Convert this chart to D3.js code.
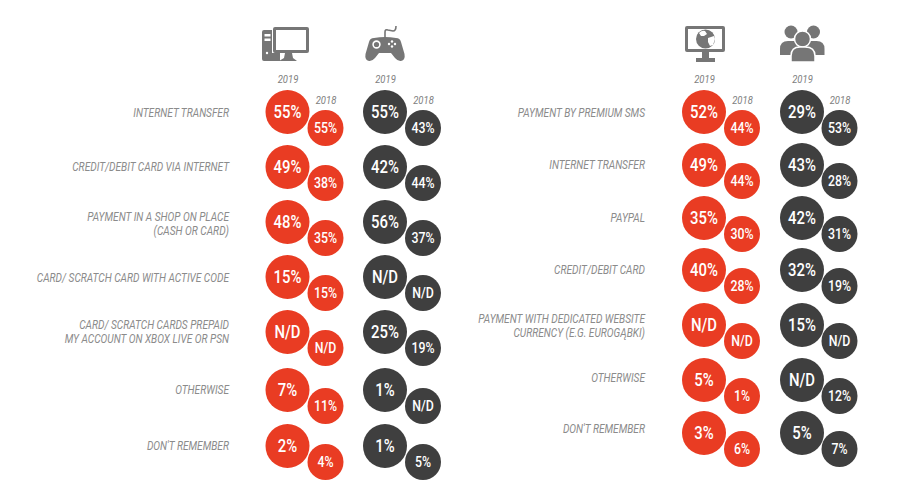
<!DOCTYPE html>
<html><head><meta charset="utf-8">
<script src="https://cdn.jsdelivr.net/npm/d3@7"></script>
<style>html,body{margin:0;padding:0;background:#fff}svg{display:block}text{font-family:Roboto,sans-serif}</style>
</head><body><svg id="c" width="899" height="496"></svg>
<script>
const leftCategories=[["INTERNET TRANSFER"],["CREDIT/DEBIT CARD VIA INTERNET"],["PAYMENT IN A SHOP ON PLACE","(CASH OR CARD)"],["CARD/ SCRATCH CARD WITH ACTIVE CODE"],["CARD/ SCRATCH CARDS PREPAID","MY ACCOUNT ON XBOX LIVE OR PSN"],["OTHERWISE"],["DON'T REMEMBER"]];
const rightCategories=[["PAYMENT BY PREMIUM SMS"],["INTERNET TRANSFER"],["PAYPAL"],["CREDIT/DEBIT CARD"],["PAYMENT WITH DEDICATED WEBSITE","CURRENCY (E.G. EUROGĄBKI)"],["OTHERWISE"],["DON'T REMEMBER"]];
const pc2019=["55%","49%","48%","15%","N/D","7%","2%"];
const pc2018=["55%","38%","35%","15%","N/D","11%","4%"];
const console2019=["55%","42%","56%","N/D","25%","1%","1%"];
const console2018=["43%","44%","37%","N/D","19%","N/D","5%"];
const web2019=["52%","49%","35%","40%","N/D","5%","3%"];
const web2018=["44%","44%","30%","28%","N/D","1%","6%"];
const people2019=["29%","43%","42%","32%","15%","N/D","5%"];
const people2018=["53%","28%","31%","19%","N/D","12%","7%"];
const years=["2019","2018"];

const svg=d3.select("#c");
const RED="#e93c23",DARK="#3f3f3f",ICON="#767676",LABEL="#8b8b8b";
const idx=d3.range(7);
const yL=d3.scaleLinear().domain(idx).range([112,167,222,277,332,390,446]);
const yR=d3.scaleLinear().domain(idx).range([112,165,218,270,325,380,433]);
const labelYL=d3.scaleLinear().domain(idx).range([113,167,223.5,278,332,390,446]);
const labelYR=d3.scaleLinear().domain(idx).range([113,165,218,270,326,378,429]);

function squeezed(g,x,y,str,size,sx,anchor,fill,style,weight){
  return g.append("text").attr("transform",`translate(${x},${y}) scale(${sx},1)`)
    .attr("text-anchor",anchor).attr("font-size",size).attr("fill",fill)
    .attr("font-style",style||"normal").attr("font-weight",weight||400)
    .attr("dominant-baseline","central").text(str);
}
function column(xBig,xSmall,y,vals19,vals18,color){
  const g=svg.append("g");
  idx.forEach(i=>{
    g.append("circle").attr("cx",xBig).attr("cy",y(i)).attr("r",22).attr("fill",color);
    g.append("circle").attr("cx",xSmall).attr("cy",y(i)+16).attr("r",18).attr("fill",color);
    squeezed(g,xBig,y(i)+.5,vals19[i],17.5,.85,"middle","#fff","normal",500);
    squeezed(g,xSmall,y(i)+16.5,vals18[i],14.5,.85,"middle","#fff","normal",500);
  });
  squeezed(g,xBig+.5,79,years[0],10.5,.9,"middle","#808080","italic");
  squeezed(g,xSmall+.5,100,years[1],10.5,.9,"middle","#808080","italic");
}
function labels(x,y,cats){
  const g=svg.append("g");
  cats.forEach((lines,i)=>lines.forEach((t,k)=>{
    squeezed(g,x,y(i)+(k-(lines.length-1)/2)*14,t,12.5,.81,"end",LABEL,"italic");
  }));
}
labels(229,labelYL,leftCategories);
labels(645,labelYR,rightCategories);
column(287.5,325.5,yL,pc2019,pc2018,RED);
column(385,423,yL,console2019,console2018,DARK);
column(704,742,yR,web2019,web2018,RED);
column(802,839.5,yR,people2019,people2018,DARK);

// icons
const ic=svg.append("g").attr("fill",ICON);
// desktop
ic.append("path").attr("fill-rule","evenodd").attr("d","M264 30h8v23h8v8h-16q-2 0-2-2V32q0-2 2-2ZM264.5 34v2.5h6V34ZM264.5 38.5V41h6v-2.5Z");
ic.append("path").attr("fill","#fff").attr("d","M272 30h2v23h-2Z");
ic.append("path").attr("fill-rule","evenodd").attr("d","M275 27h32q2 0 2 2v22q0 2-2 2h-32q-2 0-2-2V29q0-2 2-2ZM276 30v20h30V30Z");
ic.append("path").attr("d","M285 53h7l1 5 4 3h-18l5-3Z");
ic.append("circle").attr("cx",267).attr("cy",53).attr("r",1.2).attr("fill","#fff");
// gamepad
ic.append("path").attr("d","M374 38Q385 36 396 38Q400 38 401 42L404.500 54Q405.500 60 401 61Q398 61.500 395 58L391 53H379L375 58Q372 61.500 369 61Q364.500 60 365.500 54L369 42Q370 38 374 38Z");
ic.append("circle").attr("cx",376.500).attr("cy",44.500).attr("r",3.400).attr("fill","none").attr("stroke","#fff").attr("stroke-width",1.600);
[[392,41.500],[395,44],[392,46.500],[389,44]].forEach(p=>ic.append("circle").attr("cx",p[0]).attr("cy",p[1]).attr("r",1.200).attr("fill","#fff"));
ic.append("path").attr("d","M385 38v-6q0-3 3-2l5 1q3 0 3-5").attr("fill","none").attr("stroke",ICON).attr("stroke-width",1.600);
// web monitor
ic.append("path").attr("fill-rule","evenodd").attr("d","M687 26h36q2 0 2 2v22q0 2-2 2h-36q-2 0-2-2V28q0-2 2-2ZM688 29v20h34V29Z");
ic.append("path").attr("d","M702 52h7v6h6v4h-19v-4h6Z");
ic.append("circle").attr("cx",705.500).attr("cy",39).attr("r",9.500);
ic.append("path").attr("fill","#fff").attr("d","M699 33q3-3 6-2l2 3-3 2-3 0ZM708 38l6-2 1 3-2 6-3 1-2-4Z");
// people
[[791,32,6.500],[813.500,32,6.500]].forEach(p=>{
  ic.append("circle").attr("cx",p[0]).attr("cy",p[1]).attr("r",p[2]);
  ic.append("path").attr("d",`M${p[0]-11} 55v-6q0-8 8-8h6q8 0 8 8v6Z`);
});
ic.append("circle").attr("cx",802.500).attr("cy",39).attr("r",8).attr("stroke","#fff").attr("stroke-width",1.500);
ic.append("path").attr("stroke","#fff").attr("stroke-width",1.500).attr("d","M791 62v-6q0-9 9-9h5q10 0 10 9v6Z");
</script></body></html>
